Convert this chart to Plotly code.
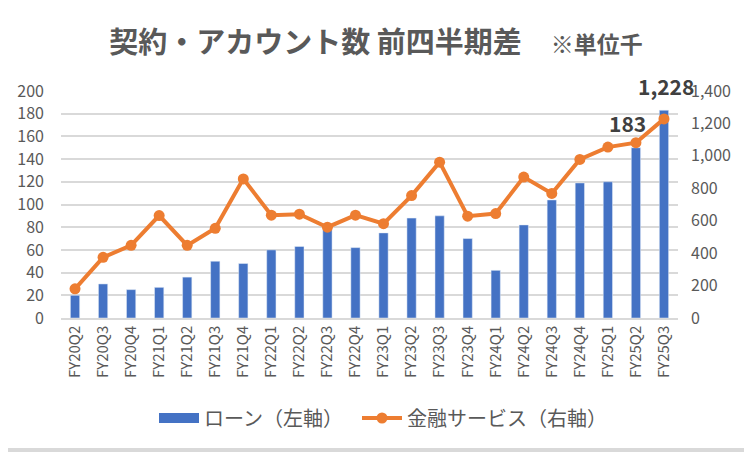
import plotly.graph_objects as go

# 四半期
quarters = ["FY20Q2", "FY20Q3", "FY20Q4", "FY21Q1", "FY21Q2", "FY21Q3", "FY21Q4",
            "FY22Q1", "FY22Q2", "FY22Q3", "FY22Q4", "FY23Q1", "FY23Q2", "FY23Q3",
            "FY23Q4", "FY24Q1", "FY24Q2", "FY24Q3", "FY24Q4", "FY25Q1", "FY25Q2",
            "FY25Q3"]
# ローン（左軸）
loan = [20, 30, 25, 27, 36, 50, 48, 60, 63, 78, 62, 75, 88, 90, 70, 42, 82, 104,
        119, 120, 150, 183]
# 金融サービス（右軸）
fin = [180, 374, 448, 632, 448, 553, 858, 634, 640, 560, 634, 582, 755, 961, 628,
       644, 869, 768, 978, 1054, 1081, 1228]

W, H = 752, 452
OFF = 8  # page body margin, the figure is drawn 8px in from the window corner
L, T = 61 - OFF, 91 - OFF
R, B = W - (678 - OFF), H - (318 - OFF)
pw, ph = W - L - R, H - T - B


def px_x(px):  # window pixel -> paper x
    return (px - OFF - L) / pw


def px_y(py):  # window pixel -> paper y
    return (T + ph - (py - OFF)) / ph


grey = "#595959"
font = "Noto Sans CJK JP"
blue = "#4472C4"
orange = "#ED7D31"

fig = go.Figure()
fig.add_trace(go.Bar(x=quarters, y=loan, name="ローン（左軸）", showlegend=False,
                     marker_color=blue, width=0.33, yaxis="y"))
# legend swatch for the bars (wide bar like Excel)
fig.add_trace(go.Scatter(x=[None], y=[None], name="ローン（左軸）", mode="lines",
                         line=dict(color=blue, width=10), legend="legend"))
fig.add_trace(go.Scatter(x=quarters, y=fin, name="金融サービス（右軸）",
                         mode="lines+markers", yaxis="y2", legend="legend2",
                         line=dict(color=orange, width=4),
                         marker=dict(color=orange, size=11)))

# data labels for the latest quarter
fig.add_annotation(x=quarters[-1], y=loan[-1], xref="x", yref="y",
                   text="<b>%d</b>" % loan[-1], showarrow=False,
                   xanchor="right", yanchor="middle", xshift=-16, yshift=-13,
                   font=dict(size=21, color="#404040", family=font))
fig.add_annotation(x=quarters[-1], y=fin[-1], xref="x", yref="y2",
                   text="<b>{:,}</b>".format(fin[-1]), showarrow=False,
                   xanchor="center", yanchor="bottom", yshift=16, xshift=2,
                   font=dict(size=21, color="#404040", family=font))

# right and bottom edges of the chart frame
fig.add_shape(type="line", xref="paper", yref="paper", x0=px_x(746), x1=px_x(746),
              y0=px_y(450), y1=px_y(0), line=dict(color="#d9d9d9", width=4))
fig.add_shape(type="line", xref="paper", yref="paper", x0=px_x(0), x1=px_x(746),
              y0=px_y(450), y1=px_y(450), line=dict(color="#d9d9d9", width=4))

leg = dict(orientation="h", xanchor="left", yanchor="middle", y=px_y(418),
           font=dict(size=20, color=grey, family=font),
           itemwidth=40, bgcolor="rgba(0,0,0,0)")

fig.update_layout(
    width=W, height=H,
    margin=dict(l=L, r=R, t=T, b=B, autoexpand=False),
    paper_bgcolor="white", plot_bgcolor="white",
    font=dict(family=font, color=grey),
    title=dict(text="<b>契約・アカウント数 前四半期差</b>　<b><span style='font-size:23px'>※単位千</span></b>",
               x=(376 - OFF) / W, xanchor="center", xref="container",
               y=1 - (43 - OFF) / H, yanchor="middle",
               font=dict(size=29, color=grey, family=font)),
    xaxis=dict(range=[-0.5, len(quarters) - 0.5], automargin=False,
               tickangle=-90, tickfont=dict(size=15, color=grey),
               showgrid=False, showline=True, linecolor="#d9d9d9", linewidth=1.5,
               ticks=""),
    yaxis=dict(range=[0, 200], dtick=20, automargin=False,
               tickfont=dict(size=16, color=grey),
               gridcolor="#d9d9d9", gridwidth=1.5, zeroline=False, ticks="",
               ticklabelstandoff=16),
    yaxis2=dict(range=[0, 1400], dtick=200, overlaying="y", side="right",
                automargin=False, tickformat=",d",
                tickfont=dict(size=16, color=grey), ticklabelstandoff=12,
                showgrid=False, zeroline=False, ticks=""),
    legend=dict(leg, x=px_x(154)),
    legend2=dict(leg, x=px_x(357)),
    showlegend=True,
)

fig.write_html("out.html")
